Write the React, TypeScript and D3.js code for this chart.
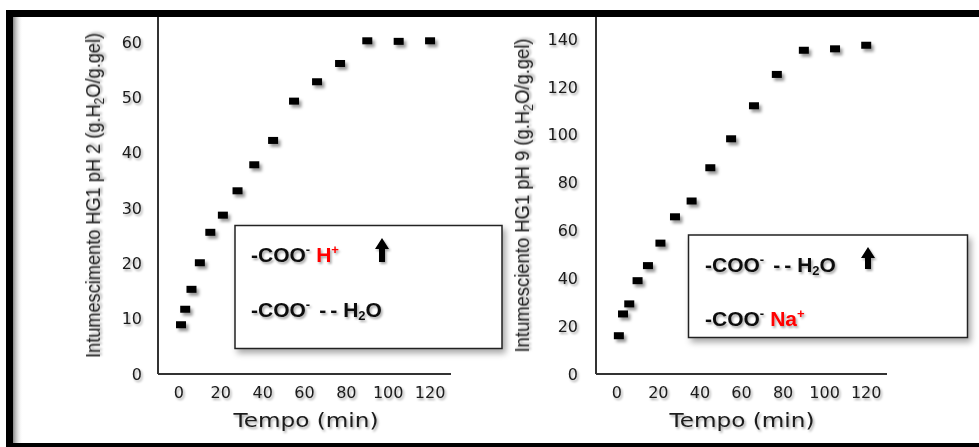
import * as d3 from 'd3';

// tempo (min) -- same sampling for both gels
const tempo = [1, 3, 6, 10, 15, 21, 28, 36, 45, 55, 66, 77, 90, 105, 120];
// swelling at pH 2 and pH 9 (g H2O / g gel)
const ph2 = [8.9, 11.7, 15.3, 20.1, 25.6, 28.7, 33.1, 37.8, 42.2, 49.3, 52.8, 56.1, 60.2, 60.1, 60.2];
const ph9 = [16.0, 25.1, 29.3, 39.0, 45.3, 54.7, 65.7, 72.3, 86.2, 98.3, 112.1, 125.2, 135.3, 135.9, 137.4];

const xTicks = [0, 20, 40, 60, 80, 100, 120];
const ph2Ticks = [0, 10, 20, 30, 40, 50, 60];
const ph9Ticks = [0, 20, 40, 60, 80, 100, 120, 140];

const tickFont = 'DejaVu Sans, Verdana, sans-serif';
const legendFont = 'Liberation Sans, Arial, sans-serif';

function Arrow({ cx, top, bottom }: { cx: number; top: number; bottom: number }) {
  const head = 11;
  const p = d3.path();
  p.moveTo(cx, top);
  p.lineTo(cx + 7, top + head);
  p.lineTo(cx + 3, top + head);
  p.lineTo(cx + 3, bottom);
  p.lineTo(cx - 3, bottom);
  p.lineTo(cx - 3, top + head);
  p.lineTo(cx - 7, top + head);
  p.closePath();
  return <path d={p.toString()} fill="#000" filter="url(#txtShadow)" />;
}

function Panel(props: {
  xLeft: number; xRight: number; yMax: number; values: number[]; ticks: number[];
  title: string; titleX: number; titleLen: number; tickRight: number; tempoX: number;
}) {
  const { xLeft, xRight, yMax, values, ticks, title, titleX, titleLen, tickRight, tempoX } = props;
  const x = d3.scaleLinear().domain([-10, 130]).range([xLeft, xRight]);
  const y = d3.scaleLinear().domain([0, yMax]).range([374, 17]);
  const [pre, post] = title.split('H2O');
  return (
    <g>
      {/* axes */}
      <line x1={xLeft} x2={xLeft} y1={y(0)} y2={y.range()[1]} stroke="#333" strokeWidth={2} />
      <line x1={xLeft} x2={xRight} y1={y(0)} y2={y(0)} stroke="#333" strokeWidth={2} />
      {ticks.map(t => (
        <text key={'y' + t} x={tickRight} y={y(t)} dy="0.36em" textAnchor="end"
          fontFamily={tickFont} fontSize={16} fill="#1a1a1a" filter="url(#txtShadow)">{t}</text>
      ))}
      {xTicks.map(t => (
        <text key={'x' + t} x={x(t)} y={398} textAnchor="middle"
          fontFamily={tickFont} fontSize={16} fill="#1a1a1a" filter="url(#txtShadow)">{t}</text>
      ))}
      <text x={tempoX} y={427} textAnchor="middle" fontFamily={tickFont} fontSize={19}
        textLength={145} lengthAdjust="spacingAndGlyphs" fill="#1a1a1a" filter="url(#txtShadow)">Tempo (min)</text>
      <g transform={`translate(${titleX},195.5) rotate(-90)`}>
        <text x={0} y={6} textAnchor="middle" fontFamily="Liberation Sans Narrow, Liberation Sans, Arial, sans-serif"
          fontSize={21} fill="#222" textLength={titleLen} lengthAdjust="spacingAndGlyphs" filter="url(#txtShadow)">
          {pre}H<tspan fontSize={14} dy={4}>2</tspan><tspan dy={-4}>O{post}</tspan>
        </text>
      </g>
      {values.map((v, i) => (
        <rect key={i} x={x(tempo[i]) - 5} y={y(v) - 3.5} width={10} height={7} fill="#000" filter="url(#markShadow)" />
      ))}
    </g>
  );
}

export default function App() {
  return (
    <svg width={979} height={447} style={{ position: 'absolute', left: 0, top: 0 }}>
      <defs>
        <filter id="txtShadow" x="-20%" y="-40%" width="140%" height="200%">
          <feDropShadow dx={1.5} dy={2} stdDeviation={1.3} floodColor="#000" floodOpacity={0.35} />
        </filter>
        <filter id="markShadow" x="-50%" y="-80%" width="220%" height="300%">
          <feDropShadow dx={2.5} dy={3} stdDeviation={1.8} floodColor="#000" floodOpacity={0.4} />
        </filter>
        <filter id="boxShadow" x="-10%" y="-10%" width="125%" height="135%">
          <feDropShadow dx={3} dy={4} stdDeviation={3} floodColor="#000" floodOpacity={0.35} />
        </filter>
        <linearGradient id="edge" x1="0" x2="1" y1="0" y2="0">
          <stop offset="0" stopColor="#888" />
          <stop offset="1" stopColor="#fff" stopOpacity={0} />
        </linearGradient>
      </defs>
      <rect width={979} height={447} fill="#fff" />
      <rect x={13} y={17} width={10} height={426} fill="url(#edge)" />

      <Panel xLeft={158} xRight={451} yMax={64.5} values={ph2} ticks={ph2Ticks}
        title="Intumescimento HG1 pH 2 (g.H2O/g.gel)" titleX={94} titleLen={325} tickRight={142} tempoX={306} />
      <Panel xLeft={596} xRight={887} yMax={149.2} values={ph9} ticks={ph9Ticks}
        title="Intumesciento HG1 pH 9 (g.H2O/g.gel)" titleX={523} titleLen={314} tickRight={578} tempoX={742} />

      {/* legend box, pH 2 */}
      <rect x={235} y={225.5} width={267} height={123} fill="#fff" stroke="#222" strokeWidth={1.5} filter="url(#boxShadow)" />
      <g fontFamily={legendFont} fontWeight="bold" fontSize={21} fill="#111" filter="url(#txtShadow)">
        <text x={251} y={262}>-COO<tspan fontSize={13} dy={-8}>-</tspan><tspan dy={8} dx={6} fill="#ff0000">H</tspan><tspan fill="#ff0000" fontSize={13} dy={-8}>+</tspan></text>
        <text x={251} y={317}>-COO<tspan fontSize={13} dy={-8}>-</tspan><tspan dy={8} dx={9}>-</tspan><tspan dx={4}>-</tspan><tspan dx={6}>H</tspan><tspan fontSize={13} dy={3}>2</tspan><tspan dy={-3}>O</tspan></text>
      </g>
      <Arrow cx={382} top={238} bottom={262} />

      {/* legend box, pH 9 */}
      <rect x={688.5} y={235} width={279} height={102.5} fill="#fff" stroke="#222" strokeWidth={1.5} filter="url(#boxShadow)" />
      <g fontFamily={legendFont} fontWeight="bold" fontSize={21} fill="#111" filter="url(#txtShadow)">
        <text x={705} y={272}>-COO<tspan fontSize={13} dy={-8}>-</tspan><tspan dy={8} dx={9}>-</tspan><tspan dx={4}>-</tspan><tspan dx={6}>H</tspan><tspan fontSize={13} dy={3}>2</tspan><tspan dy={-3}>O</tspan></text>
        <text x={705} y={326}>-COO<tspan fontSize={13} dy={-8}>-</tspan><tspan dy={8} dx={6} fill="#ff0000">Na</tspan><tspan fill="#ff0000" fontSize={13} dy={-8}>+</tspan></text>
      </g>
      <Arrow cx={868} top={247} bottom={269} />

      {/* outer frame */}
      <rect x={9.5} y={13.5} width={1000} height={433} fill="none" stroke="#000" strokeWidth={7} />
    </svg>
  );
}
